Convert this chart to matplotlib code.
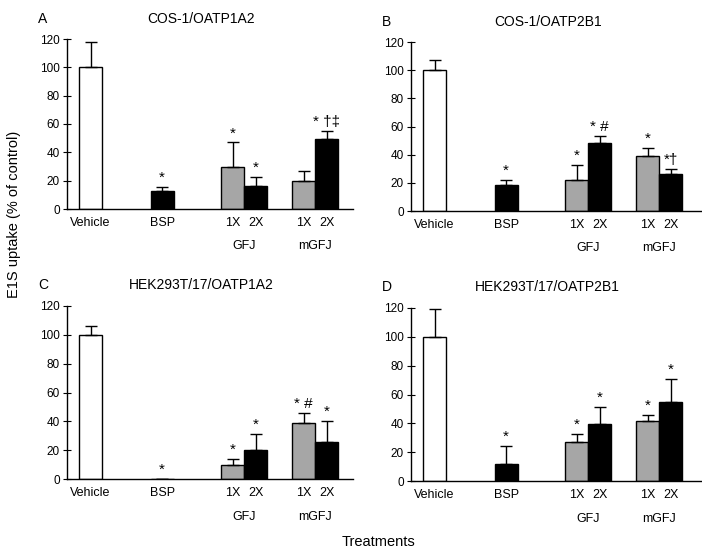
import numpy as np
import matplotlib.pyplot as plt

plt.rcParams['font.family'] = ['Liberation Sans', 'DejaVu Sans']

treatments = ["Vehicle", "BSP", "GFJ 1X", "GFJ 2X", "mGFJ 1X", "mGFJ 2X"]

# mean uptake (% of control) and upper error (SD) per panel
means_a = [100, 13, 30, 16, 19.5, 49.5]
errs_a = [18, 2.5, 17, 6.5, 7.5, 5.5]
marks_a = ["", "*", "*", "*", "", "* \u2020\u2021"]

means_b = [100, 18.5, 22, 48, 39, 26]
errs_b = [7, 3.5, 11, 5.5, 6, 4]
marks_b = ["", "*", "*", "* #", "*", "*\u2020"]

means_c = [100, 0, 10, 20, 38.5, 25.5]
errs_c = [6, 0, 4, 11, 7, 14.5]
marks_c = ["", "*", "*", "*", "* #", "*"]

means_d = [100, 11.5, 27, 39.5, 41.5, 55]
errs_d = [19.5, 12.5, 5.5, 12, 4, 15.5]
marks_d = ["", "*", "*", "*", "*", "*"]

titles = [("COS-1", "OATP1A2"), ("COS-1", "OATP2B1"),
          ("HEK293T/17", "OATP1A2"), ("HEK293T/17", "OATP2B1")]
letters = ["A", "B", "C", "D"]

centers = [0, 1, 2.15, 3.14]
w = 0.32
xpos = [centers[0], centers[1], centers[2] - w/2, centers[2] + w/2, centers[3] - w/2, centers[3] + w/2]
colors = ["white", "black", "#a6a6a6", "black", "#a6a6a6", "black"]

fig = plt.figure(figsize=(7.02, 5.53), dpi=100)
boxes = [
    [67/702, 1 - 209/553, 286/702, 170/553],
    [411/702, 1 - 211/553, 291/702, 169/553],
    [67/702, 1 - 479/553, 286/702, 173/553],
    [411/702, 1 - 481/553, 291/702, 173/553],
]
data = [(means_a, errs_a, marks_a), (means_b, errs_b, marks_b),
        (means_c, errs_c, marks_c), (means_d, errs_d, marks_d)]

for i, (box, (m, e, mk)) in enumerate(zip(boxes, data)):
    ax = fig.add_axes(box)
    ax.bar(xpos, m, width=w, color=colors, edgecolor="black", linewidth=1, zorder=2)
    ax.errorbar(xpos, m, yerr=[np.zeros(len(e)), e], fmt="none", ecolor="black",
                elinewidth=1, capsize=4, capthick=1, zorder=3)
    for x, mm, ee, s in zip(xpos, m, e, mk):
        if s:
            ax.text(x, mm + ee + 1.5, s, ha="center", va="bottom", fontsize=11)
    xr = (box[2] * 702) / 71.5
    ax.set_xlim(-0.33, -0.33 + xr)
    ax.set_ylim(0, 120)
    ax.set_yticks(range(0, 121, 20))
    ax.tick_params(axis="y", direction="inout", length=6, labelsize=8.5, pad=2)
    ax.set_xticks([])
    for sp in ["top", "right"]:
        ax.spines[sp].set_visible(False)
    ax.spines["left"].set_linewidth(1)
    ax.spines["bottom"].set_linewidth(1)
    sub = ["Vehicle", "BSP", "1X", "2X", "1X", "2X"]
    for x, s in zip(xpos, sub):
        ax.text(x, -14/170*120, s, ha="center", va="center", fontsize=9)
    ax.text(centers[2], -37/170*120, "GFJ", ha="center", va="center", fontsize=9)
    ax.text(centers[3], -37/170*120, "mGFJ", ha="center", va="center", fontsize=9)
    cell, prot = titles[i]
    ax.text(0.47, 1.12, cell + "/" + prot, transform=ax.transAxes, ha="center", va="center",
            fontsize=10)
    ax.text(-0.10, 1.12, letters[i], transform=ax.transAxes, ha="left", va="center", fontsize=10)
    for t in ax.texts:
        t.set_clip_on(False)

fig.text(378/702, 1 - 542/553, "Treatments", ha="center", va="center", fontsize=10.5)
fig.text(14/702, 1 - 214/553, "E1S uptake (% of control)", ha="center", va="center",
         rotation=90, fontsize=10.5)

fig.savefig("out.png", dpi=100)
